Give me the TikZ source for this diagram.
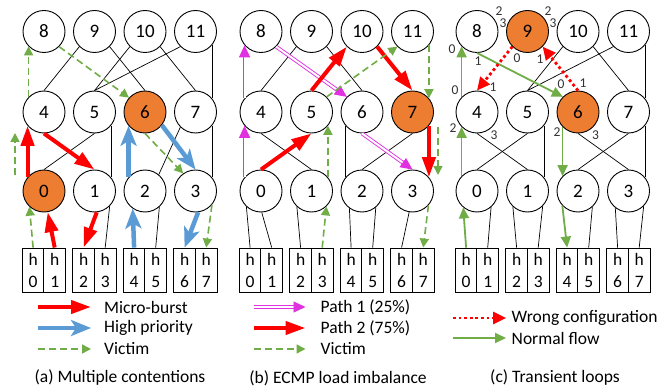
\documentclass[tikz,border=0pt]{standalone}
\usepackage{fontspec}
\setmainfont{Carlito}
\usetikzlibrary{arrows.meta,calc}
\definecolor{cred}{RGB}{255,0,0}
\definecolor{cblue}{RGB}{91,155,213}
\definecolor{cgreen}{RGB}{112,173,71}
\definecolor{corange}{RGB}{237,125,49}
\definecolor{cmag}{RGB}{224,48,224}
\begin{document}
\begin{tikzpicture}[x=1pt,y=-1pt,
  sw/.style={circle,draw=black,line width=0.9pt,fill=white,minimum size=42pt,inner sep=0pt,font=\fontsize{19}{19}\selectfont},
  hot/.style={sw,fill=corange},
  host/.style={draw=black,line width=0.9pt,minimum width=21.6pt,minimum height=44pt,inner sep=0pt,align=center,font=\fontsize{17.5}{22}\selectfont},
  link/.style={draw=black,line width=0.7pt},
  burst/.style={draw=cred,line width=4pt,-{Triangle[length=20pt,width=13pt]}},
  prio/.style={draw=cblue,line width=4.5pt,-{Stealth[length=20pt,width=16pt,inset=5pt]}},
  victim/.style={draw=cgreen,line width=1.6pt,dash pattern=on 7pt off 4pt,-{Triangle[length=9pt,width=9pt]}},
  pathone/.style={draw=cmag,line width=0.9pt,double=white,double distance=2pt,-{Triangle[length=12pt,width=11pt]}},
  wrong/.style={draw=cred,line width=2.8pt,dash pattern=on 2.8pt off 2.8pt,-{Triangle[length=13pt,width=12pt]}},
  normal/.style={draw=cgreen,line width=1.8pt,-{Triangle[length=11pt,width=10pt]}},
  port/.style={font=\fontsize{13.5}{13.5}\selectfont,text=black!80,inner sep=0pt},
  legtext/.style={font=\fontsize{17.5}{17.5}\selectfont,anchor=west,inner sep=0pt},
  captext/.style={font=\fontsize{17.5}{17.5}\selectfont,inner sep=0pt},
]
\useasboundingbox[fill=white] (0,0) rectangle (668,390);

% ---------- switches: panel (a)
\node[sw]  (a8)  at (44,31.5) {8};
\node[sw]  (a9)  at (94.5,31.5) {9};
\node[sw]  (a10) at (145,31.5) {10};
\node[sw]  (a11) at (195.5,31.5) {11};
\node[sw]  (a4)  at (44,112) {4};
\node[sw]  (a5)  at (94.5,112) {5};
\node[hot] (a6)  at (145,112) {6};
\node[sw]  (a7)  at (195.5,112) {7};
\node[hot] (a0)  at (44,191) {0};
\node[sw]  (a1)  at (94.5,191) {1};
\node[sw]  (a2)  at (145,191) {2};
\node[sw]  (a3)  at (195.5,191) {3};
% panel (b)
\node[sw]  (b8)  at (261,31.5) {8};
\node[sw]  (b9)  at (311.5,31.5) {9};
\node[sw]  (b10) at (362,31.5) {10};
\node[sw]  (b11) at (412.5,31.5) {11};
\node[sw]  (b4)  at (261,112) {4};
\node[sw]  (b5)  at (311.5,112) {5};
\node[sw]  (b6)  at (362,112) {6};
\node[hot] (b7)  at (412.5,112) {7};
\node[sw]  (b0)  at (261,191) {0};
\node[sw]  (b1)  at (311.5,191) {1};
\node[sw]  (b2)  at (362,191) {2};
\node[sw]  (b3)  at (412.5,191) {3};
% panel (c)
\node[sw]  (c8)  at (477,31.5) {8};
\node[hot] (c9)  at (527.5,31.5) {9};
\node[sw]  (c10) at (578,31.5) {10};
\node[sw]  (c11) at (628.5,31.5) {11};
\node[sw]  (c4)  at (477,112) {4};
\node[sw]  (c5)  at (527.5,112) {5};
\node[hot] (c6)  at (578,112) {6};
\node[sw]  (c7)  at (628.5,112) {7};
\node[sw]  (c0)  at (477,191) {0};
\node[sw]  (c1)  at (527.5,191) {1};
\node[sw]  (c2)  at (578,191) {2};
\node[sw]  (c3)  at (628.5,191) {3};

% ---------- hosts
\foreach \p/\P in {a/0,b/217,c/433}{
  \foreach \i in {0,...,7}{
    \pgfmathsetmacro\hx{33.1+50.5*int(\i/2)+21.6*mod(\i,2)+\P}
    \node[host] (h\p\i) at (\hx,270) {h\\\i};
  }
}

% ---------- panel (a) links
\draw[link] (a9.south west) -- (a4.north);
\draw[link] (a9.south east) -- (a6.north);
\draw[link] (a10.south west) -- (a5.north);
\draw[link] (a10.south east) -- (a7.north);
\draw[link] (a11.south west) -- (a5.north);
\draw[link] (a11.-40) -- (a7.40);
\draw[link] (a7.-40) -- (a3.40);
\draw[link] (a5.south) -- (a0.north);
\draw[link] (a5.-40) -- (a1.40);
\draw[link] (a7.-135) -- (a2.50);
\draw[link] (a1.-45) -- (ha3.north);
\draw[link] (a2.-48) -- (ha5.north);
\coordinate (av1) at (15,175);
\coordinate (av2) at (15,133);
\draw[victim] (a4.136) -- (a8.224);
\draw[victim] (a8.south east) -- (a6.138);
\draw[victim] (a6.south) -- (a3.125);
\draw[victim] (av1) -- (av2);
\draw[victim] (ha0.north) -- (a0.-133);
\draw[victim] (a3.-40) -- (ha7.north);
\draw[burst] (a0.140) -- (a4.220);
\draw[burst] (a4.south) -- (a1.north);
\draw[burst] (ha1.north) -- (a0.-80);
\draw[burst] (a1.-84) -- (ha2.north);
\draw[prio] (ha4.north) -- (a2.-125);
\draw[prio] (a2.140) -- (a6.220);
\draw[prio] (a6.-38) -- (a3.north);
\draw[prio] (a3.-83) -- (ha6.north);

% ---------- panel (b) links
\draw[link] (b9.south west) -- (b4.north);
\draw[link] (b9.south east) -- (b6.north);
\draw[link] (b4.south) -- (b1.north);
\draw[link] (b6.220) -- (b2.140);
\draw[link] (b7.south) -- (b2.north);
\draw[link] (b0.-133) -- (hb0.north);
\draw[link] (b0.-88) -- (hb1.north);
\draw[link] (b1.-133) -- (hb2.north);
\draw[link] (b2.-126) -- (hb4.north);
\draw[link] (b2.-50) -- (hb5.north);
\draw[link] (b3.-99) -- (hb6.north);
\draw[pathone] (b0.140) -- (b4.220);
\draw[pathone] (b4.140) -- (b8.220);
\draw[pathone] (b8.south east) -- (b6.north west);
\draw[pathone] (b6.south) -- (b3.north);
\draw[burst] (b0.north) -- (b5.south);
\draw[burst] (b5.north) -- (b10.south west);
\draw[burst] (b10.south east) -- (b7.north);
\draw[burst] (b7.-40) -- (b3.40);
\coordinate (bv1) at ($(b7)+(25.5,15)$);
\coordinate (bv2) at ($(b3)+(25.5,-16)$);
\draw[victim] (hb3.north) -- (b1.-46);
\draw[victim] (b1.40) -- (b5.-40);
\draw[victim] (b5.north east) -- (b11.south west);
\draw[victim] (b11.-40) -- (b7.40);
\draw[victim] (bv1) -- (bv2);
\draw[victim] (b3.-42) -- (hb7.north);

% ---------- panel (c) links
\draw[link] (c10.south west) -- (c5.north);
\draw[link] (c10.south east) -- (c7.north);
\draw[link] (c11.south west) -- (c5.north);
\draw[link] (c11.-40) -- (c7.40);
\draw[link] (c7.-40) -- (c3.40);
\draw[link] (c4.south) -- (c1.north);
\draw[link] (c5.south) -- (c0.north);
\draw[link] (c5.-40) -- (c1.40);
\draw[link] (c6.south) -- (c3.north);
\draw[link] (c7.south) -- (c2.north);
\draw[link] (c0.-49) -- (hc1.north);
\draw[link] (c1.-133) -- (hc2.north);
\draw[link] (c1.-45) -- (hc3.north);
\draw[link] (c2.-48) -- (hc5.north);
\draw[link] (c3.-128) -- (hc6.north);
\draw[link] (c3.-45) -- (hc7.north);
\draw[normal] (hc0.north) -- (c0.-130);
\draw[normal] (c0.136) -- (c4.224);
\draw[normal] (c4.136) -- (c8.224);
\draw[normal] (c8.south) -- (c6.135);
\draw[normal] (c6.224) -- (c2.136);
\draw[normal] (c2.-137) -- (hc4.north);
\draw[wrong] (c9.south west) -- (c4.north);
\draw[wrong] (c6.north) -- (c9.south east);

% port numbers
\node[port] (q1)  at (499,11) {2};
\node[port] (q2)  at (503,23) {3};
\node[port] (q3)  at (548,11) {2};
\node[port] (q4)  at (553,23) {3};
\node[port] (q5)  at (452,49) {0};
\node[port] (q6)  at (478,61) {1};
\node[port] (q7)  at (517,58) {0};
\node[port] (q8)  at (540,59) {1};
\node[port] (q9)  at (493,87) {1};
\node[port] (q10) at (455,90) {0};
\node[port] (q11) at (453,128) {2};
\node[port] (q12) at (494,135) {3};
\node[port] (q13) at (561,84) {0};
\node[port] (q14) at (583,83) {1};
\node[port] (q15) at (557,132) {2};
\node[port] (q16) at (595.5,135) {3};

% ---------- legends
\coordinate (la1) at (38,307);  \coordinate (la1e) at (91,307);
\coordinate (la2) at (38,328);  \coordinate (la2e) at (91,328);
\coordinate (la3) at (38,349);  \coordinate (la3e) at (91,349);
\draw[burst] (la1) -- (la1e);
\draw[prio] (la2) -- (la2e);
\draw[victim] (la3) -- (la3e);
\node[legtext] (ta1) at (104,307) {Micro-burst};
\node[legtext] (ta2) at (104,328) {High priority};
\node[legtext] (ta3) at (104,349) {Victim};

\coordinate (lb1) at (254,307);  \coordinate (lb1e) at (305.5,307);
\coordinate (lb2) at (254,328);  \coordinate (lb2e) at (305.5,328);
\coordinate (lb3) at (254,349);  \coordinate (lb3e) at (305.5,349);
\draw[pathone] (lb1) -- (lb1e);
\draw[burst] (lb2) -- (lb2e);
\draw[victim] (lb3) -- (lb3e);
\node[legtext] (tb1) at (320.5,307) {Path 1 (25\%)};
\node[legtext] (tb2) at (320.5,328) {Path 2 (75\%)};
\node[legtext] (tb3) at (320.5,349) {Victim};

\coordinate (lc1) at (453,318);  \coordinate (lc1e) at (506,318);
\coordinate (lc2) at (453,338);  \coordinate (lc2e) at (506,338);
\draw[wrong] (lc1) -- (lc1e);
\draw[normal] (lc2) -- (lc2e);
\node[legtext] (tc1) at (511.5,318) {Wrong configuration};
\node[legtext] (tc2) at (511.5,338) {Normal flow};

\node[captext] (cap1) at (120,378) {(a) Multiple contentions};
\node[captext] (cap2) at (338,378) {(b) ECMP load imbalance};
\node[captext] (cap3) at (555,378) {(c) Transient loops};
\end{tikzpicture}
\end{document}
